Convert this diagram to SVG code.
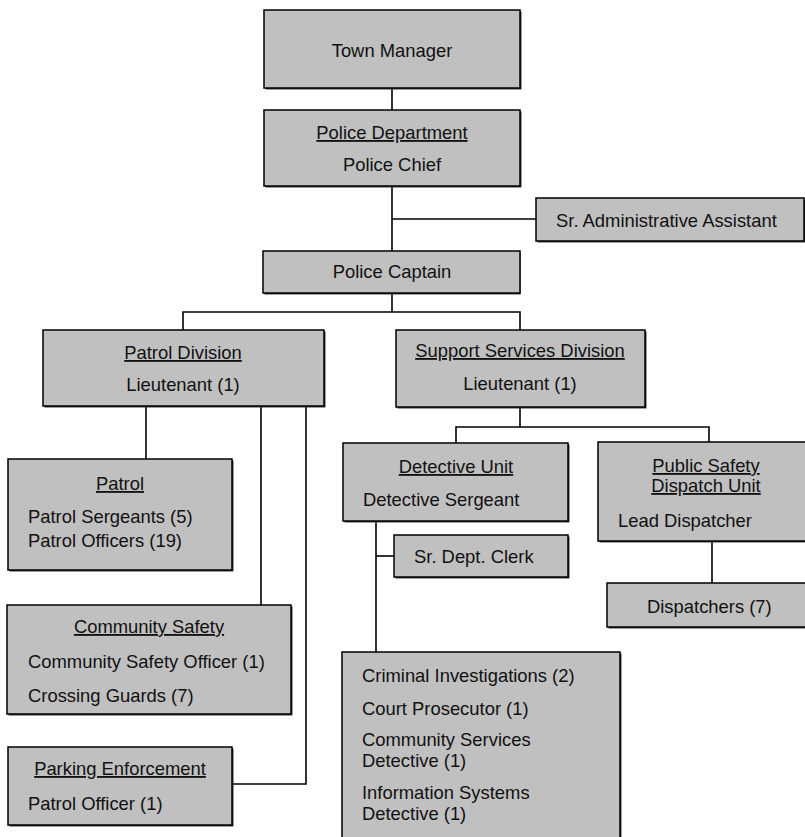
<svg xmlns="http://www.w3.org/2000/svg" width="805" height="837" viewBox="0 0 805 837">
  <style>
    .box { fill: #c0c0c0; stroke: #000; stroke-width: 1.5; }
    .shadow { fill: #3a3a3a; }
    .t { font-family: "Liberation Sans", Arial, sans-serif; font-size: 18.4px; fill: #111; }
    .c { text-anchor: middle; }
    .u { text-decoration: underline; }
    .link { stroke: #000; stroke-width: 1.6; fill: none; }
  </style>

  <!-- connectors -->
  <g id="connectors">
    <line class="link" x1="392" y1="88" x2="392" y2="110"/>
    <line class="link" x1="392" y1="186" x2="392" y2="251"/>
    <line class="link" x1="392" y1="219" x2="536" y2="219"/>
    <polyline class="link" points="392,293 392,312"/>
    <polyline class="link" points="183,330 183,312 520,312 520,330"/>
    <line class="link" x1="146" y1="406" x2="146" y2="459"/>
    <line class="link" x1="261" y1="406" x2="261" y2="605"/>
    <polyline class="link" points="306,406 306,784 232,784"/>
    <polyline class="link" points="520,407 520,427"/>
    <polyline class="link" points="456,443 456,427 709,427 709,442"/>
    <line class="link" x1="376" y1="521" x2="376" y2="652"/>
    <line class="link" x1="376" y1="556" x2="394" y2="556"/>
    <line class="link" x1="712" y1="541" x2="712" y2="583"/>
  </g>

  <g id="town-manager">
    <rect class="shadow" x="265.5" y="11.5" width="256" height="78"/>
    <rect class="box" x="264" y="10" width="256" height="78"/>
    <text class="t c" x="392" y="57">Town Manager</text>
  </g>

  <g id="police-department">
    <rect class="shadow" x="265.5" y="111.5" width="256" height="76"/>
    <rect class="box" x="264" y="110" width="256" height="76"/>
    <text class="t c u" x="392" y="139">Police Department</text>
    <text class="t c" x="392" y="171">Police Chief</text>
  </g>

  <g id="sr-admin-assistant">
    <rect class="shadow" x="537.5" y="199.5" width="268" height="43"/>
    <rect class="box" x="536" y="198" width="268" height="43"/>
    <text class="t" x="556" y="227">Sr. Administrative Assistant</text>
  </g>

  <g id="police-captain">
    <rect class="shadow" x="264.5" y="252.5" width="256" height="42"/>
    <rect class="box" x="263" y="251" width="257" height="42"/>
    <text class="t c" x="392" y="278">Police Captain</text>
  </g>

  <g id="patrol-division">
    <rect class="shadow" x="44.5" y="331.5" width="281" height="76"/>
    <rect class="box" x="43" y="330" width="281" height="76"/>
    <text class="t c u" x="183" y="359">Patrol Division</text>
    <text class="t c" x="183" y="391">Lieutenant (1)</text>
  </g>

  <g id="support-services-division">
    <rect class="shadow" x="397.5" y="331.5" width="249" height="77"/>
    <rect class="box" x="396" y="330" width="249" height="77"/>
    <text class="t c u" x="520" y="357">Support Services Division</text>
    <text class="t c" x="520" y="390">Lieutenant (1)</text>
  </g>

  <g id="patrol">
    <rect class="shadow" x="9.5" y="460.5" width="224" height="111"/>
    <rect class="box" x="8" y="459" width="224" height="111"/>
    <text class="t c u" x="120" y="490">Patrol</text>
    <text class="t" x="28" y="523">Patrol Sergeants (5)</text>
    <text class="t" x="28" y="547">Patrol Officers (19)</text>
  </g>

  <g id="community-safety">
    <rect class="shadow" x="8.5" y="606.5" width="284" height="109"/>
    <rect class="box" x="7" y="605" width="284" height="109"/>
    <text class="t c u" x="149" y="633">Community Safety</text>
    <text class="t" x="28" y="668">Community Safety Officer (1)</text>
    <text class="t" x="28" y="702">Crossing Guards (7)</text>
  </g>

  <g id="parking-enforcement">
    <rect class="shadow" x="9.5" y="748.5" width="224" height="78"/>
    <rect class="box" x="8" y="747" width="224" height="78"/>
    <text class="t c u" x="120" y="775">Parking Enforcement</text>
    <text class="t" x="28" y="810">Patrol Officer (1)</text>
  </g>

  <g id="detective-unit">
    <rect class="shadow" x="344.5" y="444.5" width="225" height="78"/>
    <rect class="box" x="343" y="443" width="225" height="78"/>
    <text class="t c u" x="456" y="473">Detective Unit</text>
    <text class="t" x="363" y="506">Detective Sergeant</text>
  </g>

  <g id="public-safety-dispatch">
    <rect class="shadow" x="599.5" y="443.5" width="215" height="99"/>
    <rect class="box" x="598" y="442" width="215" height="99"/>
    <text class="t c u" x="706" y="472">Public Safety</text>
    <text class="t c u" x="706" y="492">Dispatch Unit</text>
    <text class="t" x="618" y="527">Lead Dispatcher</text>
  </g>

  <g id="sr-dept-clerk">
    <rect class="shadow" x="395.5" y="536.5" width="174" height="42"/>
    <rect class="box" x="394" y="535" width="174" height="42"/>
    <text class="t" x="414" y="563">Sr. Dept. Clerk</text>
  </g>

  <g id="dispatchers">
    <rect class="shadow" x="608.5" y="584.5" width="205" height="44"/>
    <rect class="box" x="607" y="583" width="205" height="44"/>
    <text class="t" x="647" y="613">Dispatchers (7)</text>
  </g>

  <g id="detective-staff">
    <rect class="shadow" x="343.5" y="653.5" width="278" height="200"/>
    <rect class="box" x="342" y="652" width="278" height="200"/>
    <text class="t" x="362" y="682">Criminal Investigations (2)</text>
    <text class="t" x="362" y="715">Court Prosecutor (1)</text>
    <text class="t" x="362" y="746">Community Services</text>
    <text class="t" x="362" y="767">Detective (1)</text>
    <text class="t" x="362" y="799">Information Systems</text>
    <text class="t" x="362" y="820">Detective (1)</text>
  </g>
</svg>
